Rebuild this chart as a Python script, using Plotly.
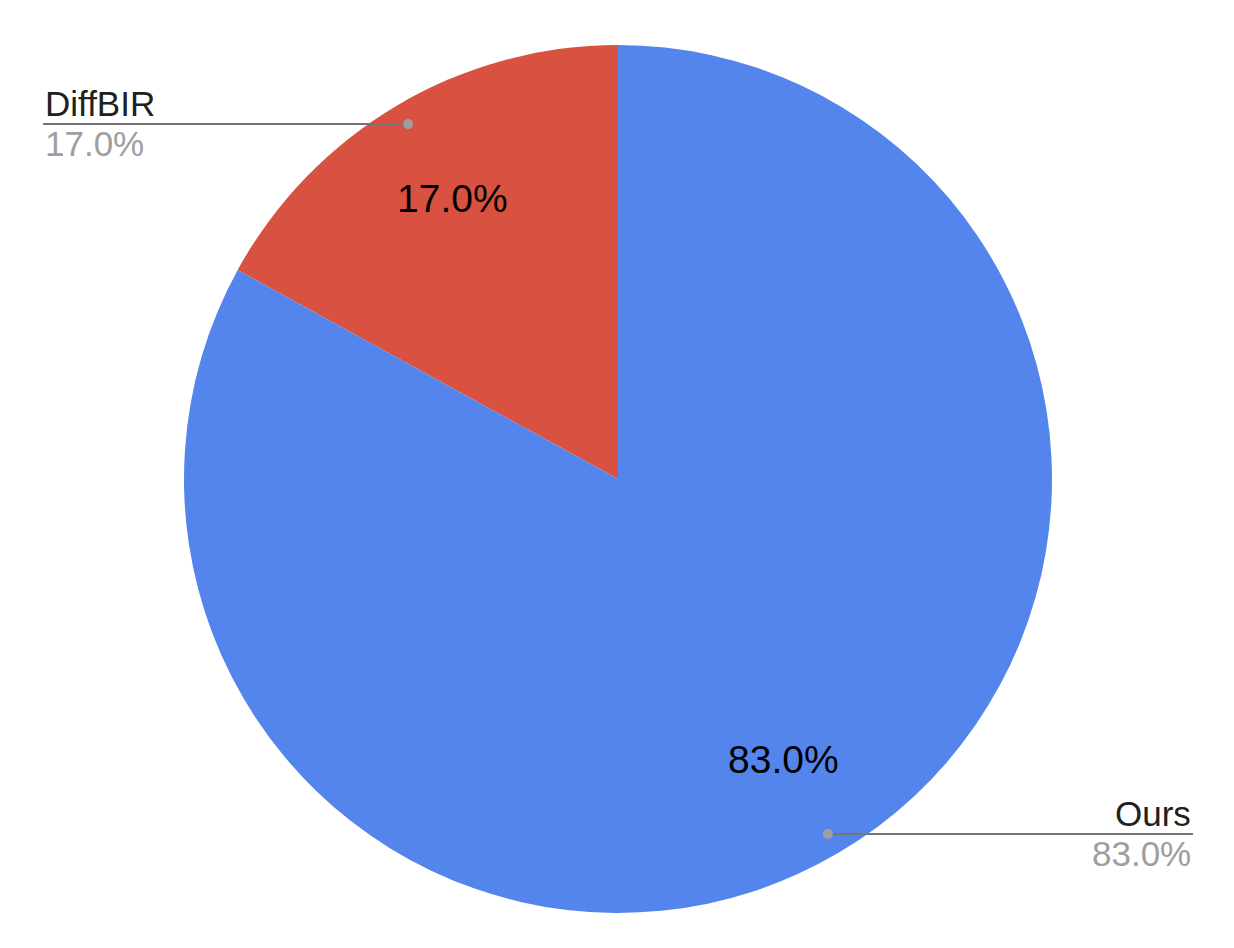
import math
import plotly.graph_objects as go

labels = ["DiffBIR", "Ours"]
values = [17.0, 83.0]
colors = ["#D95241", "#5485EC"]

W, H = 1234, 948
OFF = 8  # page body margin
CX, CY, R = 618 - OFF, 479 - OFF, 434  # pie centre / radius in pixels (from top-left of figure)

total = sum(values)

fig = go.Figure(go.Pie(
    labels=labels,
    values=values,
    sort=False,
    direction="clockwise",
    # first slice ends at 12 o'clock (it lies to the left of 12 o'clock)
    rotation=-360 * values[0] / total,
    marker=dict(colors=colors, line=dict(width=0)),
    textinfo="none",
    hoverinfo="label+percent",
    showlegend=False,
    domain=dict(x=[(CX - R) / W, (CX + R) / W],
                y=[(H - CY - R) / H, (H - CY + R) / H]),
))

def px2paper(px, py):
    return px / W, 1 - py / H

cum = 0.0
annotations = []
shapes = []
FONT = "Liberation Sans, Arial, sans-serif"
line_ends = {"left": 43 - OFF, "right": 1193 - OFF}
for lab, v in zip(labels, values):
    frac = v / total
    # slices run counterclockwise from 12 o'clock
    mid = math.radians(90 + 360 * (cum + frac / 2))
    cum += frac
    pct = f"{100 * frac:.1f}%"
    # inside label
    ix, iy = CX + 0.75 * R * math.cos(mid), CY - 0.75 * R * math.sin(mid)
    x, y = px2paper(ix, iy)
    annotations.append(dict(x=x, y=y, xref="paper", yref="paper", text=pct,
                            showarrow=False, xanchor="center", yanchor="middle",
                            font=dict(family=FONT, size=39, color="#000000")))
    # leader dot + line
    dx, dy = CX + 0.95 * R * math.cos(mid), CY - 0.95 * R * math.sin(mid)
    side = "left" if math.cos(mid) < 0 else "right"
    ex = line_ends[side]
    x0, y0 = px2paper(dx, dy)
    x1, _ = px2paper(ex, dy)
    shapes.append(dict(type="line", xref="paper", yref="paper", x0=x0, y0=y0, x1=x1, y1=y0,
                       line=dict(color="#757575", width=2)))
    shapes.append(dict(type="circle", xref="paper", yref="paper",
                       x0=(dx - 5) / W, x1=(dx + 5) / W, y0=1 - (dy + 5) / H, y1=1 - (dy - 5) / H,
                       fillcolor="#9E9E9E", line=dict(width=0)))
    anchor = "left" if side == "left" else "right"
    annotations.append(dict(x=x1, y=y0, xref="paper", yref="paper", text=lab,
                            showarrow=False, xanchor=anchor, yanchor="bottom", yshift=-1,
                            font=dict(family=FONT, size=35, color="#212121")))
    annotations.append(dict(x=x1, y=y0, xref="paper", yref="paper", text=pct,
                            showarrow=False, xanchor=anchor, yanchor="top", yshift=2,
                            font=dict(family=FONT, size=35, color="#9E9E9E")))

fig.update_layout(
    width=W, height=H,
    margin=dict(l=0, r=0, t=0, b=0),
    paper_bgcolor="#FFFFFF",
    plot_bgcolor="#FFFFFF",
    annotations=annotations,
    shapes=shapes,
)

fig.write_html("out.html")
